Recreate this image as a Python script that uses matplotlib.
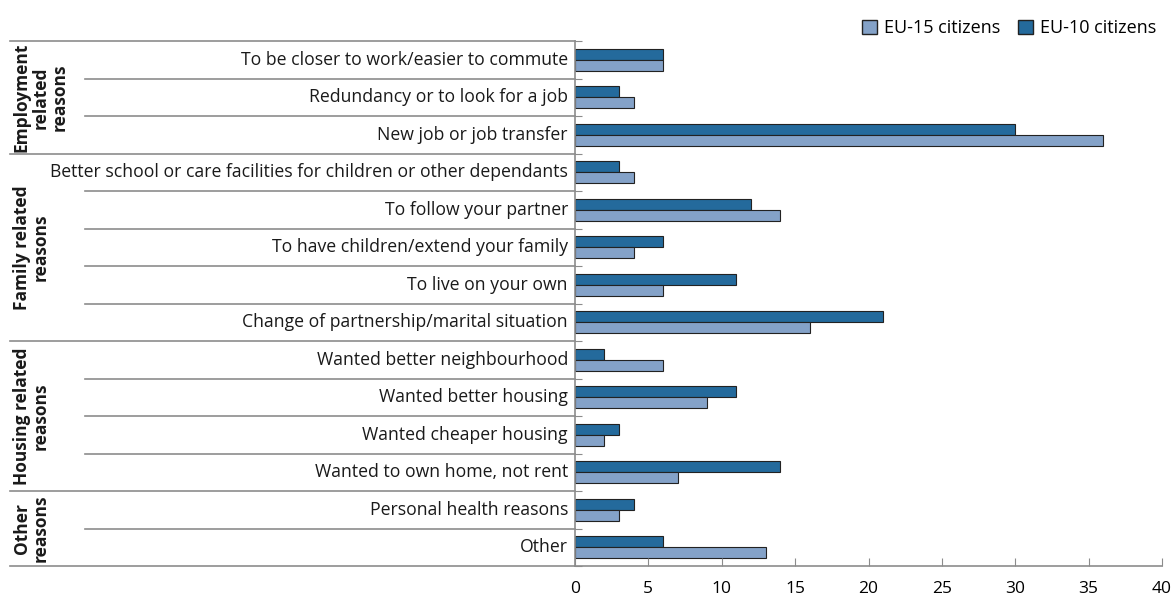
import matplotlib.pyplot as plt
import matplotlib.transforms as mtransforms
from matplotlib.patches import Patch

plt.rcParams["font.family"] = ["Open Sans", "DejaVu Sans"]

categorias = [
    "To be closer to work/easier to commute",
    "Redundancy or to look for a job",
    "New job or job transfer",
    "Better school or care facilities for children or other dependants",
    "To follow your partner",
    "To have children/extend your family",
    "To live on your own",
    "Change of partnership/marital situation",
    "Wanted better neighbourhood",
    "Wanted better housing",
    "Wanted cheaper housing",
    "Wanted to own home, not rent",
    "Personal health reasons",
    "Other",
]
eu10 = [6, 3, 30, 3, 12, 6, 11, 21, 2, 11, 3, 14, 4, 6]
eu15 = [6, 4, 36, 4, 14, 4, 6, 16, 6, 9, 2, 7, 3, 13]

grupos = [
    ("Employment\nrelated\nreasons", 0, 3),
    ("Family related\nreasons", 3, 8),
    ("Housing related\nreasons", 8, 12),
    ("Other\nreasons", 12, 14),
]

cor_eu10 = "#246a9c"
cor_eu15 = "#84a2c8"
cor_linha = "#8c8c8c"

fig = plt.figure(figsize=(11.76, 6.0), dpi=100)
ax = fig.add_axes([575 / 1176, 1 - 566 / 600, 587 / 1176, 525 / 600])

y = list(range(len(categorias)))
h = 0.29
ax.barh([v - h / 2 for v in y], eu10, height=h, color=cor_eu10,
        edgecolor="#222222", linewidth=0.8, label="EU-10 citizens")
ax.barh([v + h / 2 for v in y], eu15, height=h, color=cor_eu15,
        edgecolor="#222222", linewidth=0.8, label="EU-15 citizens")

ax.set_ylim(len(categorias) - 0.5, -0.5)
ax.set_xlim(0, 40)
ax.set_xticks(range(0, 41, 5))
ax.tick_params(axis="x", direction="in", length=6, color=cor_linha,
               labelsize=12.5, pad=11)

fronteiras = [i - 0.5 for i in range(len(categorias) + 1)]
ax.set_yticks(fronteiras)
ax.set_yticklabels([])
ax.tick_params(axis="y", direction="in", length=5, color=cor_linha)

for lado in ["top", "right"]:
    ax.spines[lado].set_visible(False)
for lado in ["left", "bottom"]:
    ax.spines[lado].set_color(cor_linha)
    ax.spines[lado].set_linewidth(1.2)

for i, cat in enumerate(categorias):
    ax.text(-0.012, i, cat, transform=mtransforms.blended_transform_factory(
        ax.transAxes, ax.transData), ha="right", va="center", fontsize=12.7,
        color="#1a1a1a")

# linhas separadoras a esquerda do eixo
trans = mtransforms.blended_transform_factory(fig.transFigure, ax.transData)
x_fim = 575 / 1176
inicios_grupo = {g[1] for g in grupos} | {len(categorias)}
for b in range(len(categorias) + 1):
    x_ini = 10 / 1176 if b in inicios_grupo else 85 / 1176
    ax.plot([x_ini, x_fim], [b - 0.5, b - 0.5], transform=trans,
            color=cor_linha, linewidth=1.2, clip_on=False)

for nome, ini, fim in grupos:
    ax.text(13 / 1176, (ini + fim - 1) / 2, nome, transform=trans,
            rotation=90, ha="left", va="center", fontsize=12.5,
            fontweight="bold", color="#1a1a1a", linespacing=1.05,
            multialignment="center")

handles = [Patch(facecolor=cor_eu15, edgecolor="#222222", label="EU-15 citizens"),
           Patch(facecolor=cor_eu10, edgecolor="#222222", label="EU-10 citizens")]
fig.legend(handles=handles, loc="upper right", bbox_to_anchor=(0.997, 0.995),
           ncol=2, frameon=False, fontsize=13, handlelength=0.8,
           handleheight=0.8, handletextpad=0.4, columnspacing=1.0)

fig.savefig("out.png", dpi=100)
